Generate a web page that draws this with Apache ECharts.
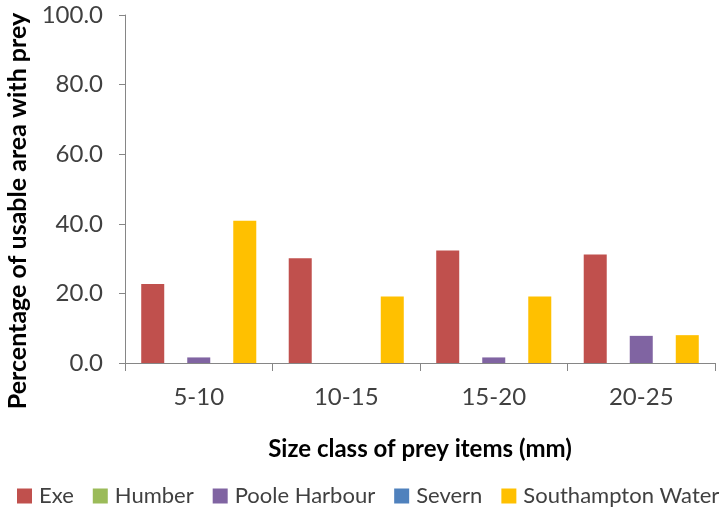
<!DOCTYPE html>
<html>
<head>
<meta charset="utf-8">
<title>Prey size classes</title>
<script src="https://cdn.jsdelivr.net/npm/echarts@6/dist/echarts.min.js"></script>
<style>
  html, body { margin: 0; padding: 0; background: #fff; }
  #main { width: 726px; height: 512px; }
</style>
</head>
<body>
<div id="main"></div>
<script>
var categories = ['5-10', '10-15', '15-20', '20-25'];
var seriesNames = ['Exe', 'Humber', 'Poole Harbour', 'Severn', 'Southampton Water'];
var exe = [22.7, 30.1, 32.3, 31.2];
var humber = [0, 0, 0, 0];
var poole = [1.6, 0, 1.6, 7.8];
var severn = [0, 0, 0, 0];
var southampton = [40.9, 19.1, 19.1, 8.0];
var yTicks = [0, 20, 40, 60, 80, 100];

var colors = ['#C0504D', '#9BBB59', '#8064A2', '#4F81BD', '#FFC000'];
var values = [exe, humber, poole, severn, southampton];

var chart = echarts.init(document.getElementById('main'));

var series = seriesNames.map(function (name, i) {
    return {
        name: name,
        type: 'bar',
        data: values[i],
        barGap: '0%',
        barCategoryGap: '22%',
        itemStyle: { color: colors[i] }
    };
});

chart.setOption({
    animation: false,
    textStyle: { fontFamily: 'Lato' },
    grid: { left: 125, right: 11, top: 15, bottom: 149, containLabel: false, outerBoundsMode: 'none' },
    legend: {
        data: seriesNames,
        top: 480,
        left: 12,
        icon: 'rect',
        itemWidth: 15,
        itemHeight: 15,
        itemGap: 19,
        textStyle: { fontSize: 22, color: '#404040', fontFamily: 'Lato', padding: [0, 0, 0, 2] }
    },
    xAxis: {
        type: 'category',
        data: categories,
        name: 'Size class of prey items (mm)',
        nameLocation: 'middle',
        nameGap: 74,
        nameTextStyle: { fontSize: 24, fontWeight: 'bold', color: '#000' },
        axisLine: { lineStyle: { color: '#868686', width: 1 } },
        axisTick: { show: true, length: 8, lineStyle: { color: '#868686' } },
        axisLabel: { fontSize: 24, color: '#404040', margin: 22 }
    },
    yAxis: {
        type: 'value',
        min: yTicks[0],
        max: yTicks[yTicks.length - 1],
        interval: yTicks[1] - yTicks[0],
        name: 'Percentage of usable area with prey',
        nameLocation: 'middle',
        nameGap: 95,
        nameTextStyle: { fontSize: 25, fontWeight: 'bold', color: '#000', padding: [0, 44, 0, 0] },
        axisLine: { show: true, lineStyle: { color: '#868686', width: 1 } },
        axisTick: { show: true, length: 6, lineStyle: { color: '#868686' } },
        splitLine: { show: false },
        axisLabel: {
            fontSize: 24,
            color: '#404040',
            margin: 22,
            formatter: function (v) { return v.toFixed(1); }
        }
    },
    series: series
});
</script>
</body>
</html>
